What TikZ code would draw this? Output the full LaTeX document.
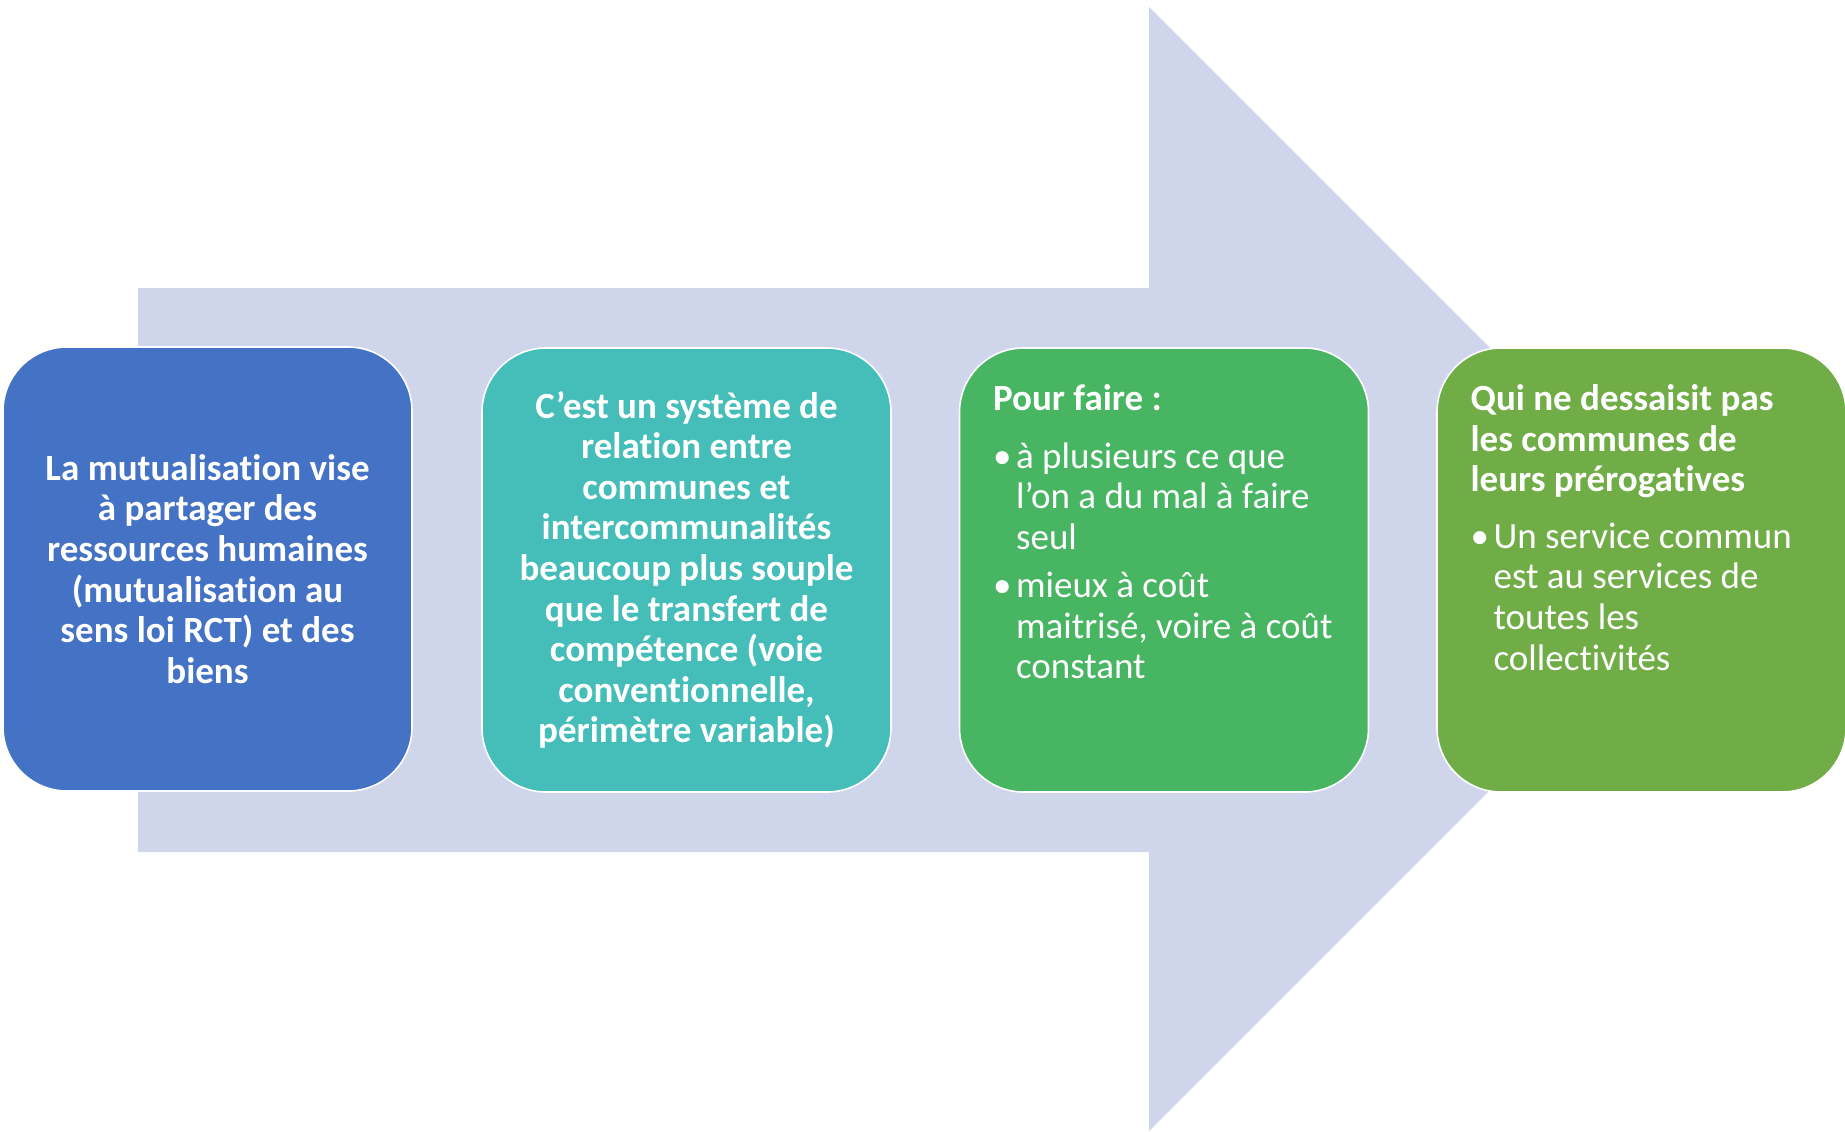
\documentclass[tikz,border=0pt]{standalone}
\usepackage{fontspec}
\setmainfont{Carlito}[Ligatures={TeX,NoCommon}]
\usepackage{tikz}

\definecolor{fleche}{HTML}{CFD5EA}
\definecolor{bleu}{HTML}{4472C4}
\definecolor{turquoise}{HTML}{45BDB8}
\definecolor{vert}{HTML}{48B563}
\definecolor{vertclair}{HTML}{70AD47}

\newcommand{\puce}{\makebox[11.5pt][l]{•}}
\newcommand{\retrait}{\hspace*{11.5pt}}

\begin{document}
\begin{tikzpicture}[x=0.5pt,y=-0.5pt,
		etape/.style={draw=white, line width=0.8pt, rounded corners=32pt, minimum width=204.5pt, minimum height=222pt, inner sep=0pt, text=white, font=\fontsize{18.5}{20.3}\selectfont},
		texte/.style={inner sep=0pt, text=white, font=\fontsize{18.5}{20.3}\selectfont}]
				\useasboundingbox (0,0) rectangle (1845,1131);
				% grande fleche de fond
				\fill[fleche] (138,288)--(1149,288)--(1149,7)--(1711,569)--(1149,1131)--(1149,852)--(138,852)--cycle;
				
				\node[etape, fill=bleu, align=center, font=\fontsize{18.5}{20.3}\selectfont\bfseries] (etape1) at (207.5,569) {La mutualisation vise\\ à partager des\\ ressources humaines\\ (mutualisation au\\ sens loi RCT) et des\\ biens};
				\node[etape, fill=turquoise, align=center, font=\fontsize{18.5}{20.3}\selectfont\bfseries] (etape2) at (686.5,570) {C’est un système de\\ relation entre\\ communes et\\ intercommunalités\\ beaucoup plus souple\\ que le transfert de\\ compétence (voie\\ conventionnelle,\\ périmètre variable)};
				\node[etape, fill=vert] (etape3) at (1164,570) {};
				\node[etape, fill=vertclair] (etape4) at (1641.5,570) {};
				
				\node[texte, align=left, anchor=north west] (texte3) at ([shift={(34,37)}]etape3.north west) {\textbf{Pour faire :}\\[8.5pt]
					\puce à plusieurs ce que\\ \retrait l’on a du mal à faire\\ \retrait seul\\[3.8pt]
					\puce mieux à coût\\ \retrait maitrisé, voire à coût\\ \retrait constant};
				\node[texte, align=left, anchor=north west] (texte4) at ([shift={(34,37)}]etape4.north west) {\textbf{Qui ne dessaisit pas}\\ \textbf{les communes de}\\ \textbf{leurs prérogatives}\\[8pt]
					\puce Un service commun\\ \retrait est au services de\\ \retrait toutes les\\ \retrait collectivités};
			\end{tikzpicture}
\end{document}
